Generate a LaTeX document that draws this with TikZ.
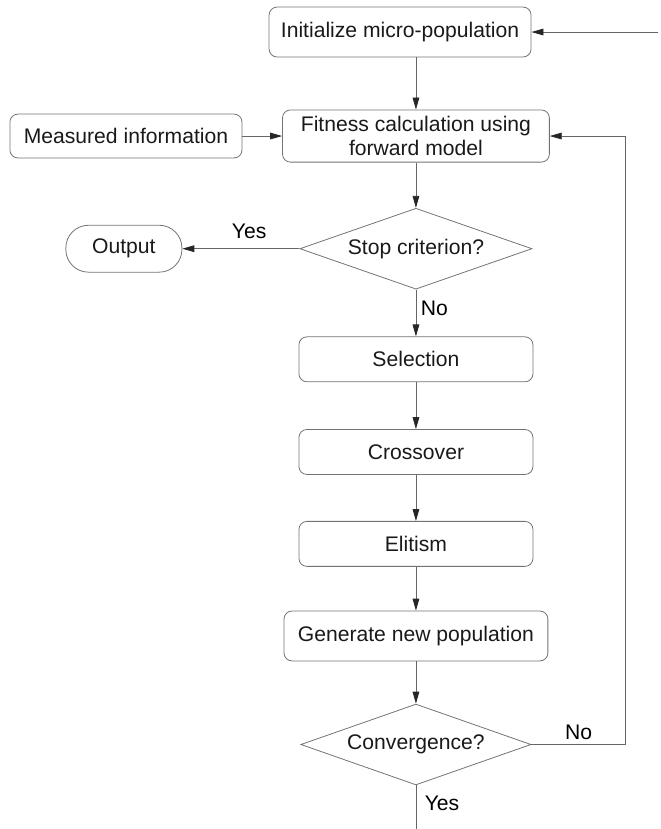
\documentclass[tikz,border=0pt]{standalone}
\usepackage{fontspec}
\setmainfont{Liberation Sans}
\usetikzlibrary{positioning, arrows.meta, shapes.geometric}

\begin{document}
\begin{tikzpicture}[
        font=\fontsize{15.9}{18}\selectfont,
        >={Triangle[length=9pt, width=5pt, color=black!85]},
        node distance=1.27cm,
        box/.style={
            draw=black!55,
            line width=0.6pt,
            rounded corners=6pt,
            align=center,
            minimum width=6.19cm,
            minimum height=1.19cm,
            inner sep=4pt,
            text=black!90
        },
        decision/.style={
            diamond,
            draw=black!55,
            line width=0.6pt,
            aspect=2.9,
            inner sep=0pt,
            minimum width=6.14cm,
            minimum height=2.14cm,
            text=black!90
        },
        terminal/.style={
            draw=black!55,
            line width=0.6pt,
            rounded corners=17pt,
            minimum width=3.07cm,
            minimum height=1.24cm,
            text=black!90
        },
        arrow/.style={->, draw=black!60, line width=0.6pt},
        line/.style={draw=black!60, line width=0.6pt}
    ]

    \useasboundingbox (0,0) rectangle (17.46,-21.93);

    \node[box, minimum width=6.93cm, minimum height=1.32cm] (init) at (10.583,-0.847) {Initialize micro-population};

    \node[box, below=1.38cm of init, xshift=0.42cm, minimum width=7.06cm, minimum height=1.38cm] (fitness) {
        Fitness calculation using\\
        forward model
    };

    \node[box, left=1.05cm of fitness, minimum width=6.14cm, minimum height=1.16cm] (measured) {Measured information};

    \node[decision, below=1.2cm of fitness] (stop) {Stop criterion?};

    \node[terminal, left=3.1cm of stop] (output) {Output};

    \node[box, below=1.24cm of stop] (selection) {Selection};

    \node[box, below=1.24cm of selection] (crossover) {Crossover};

    \node[box, below=1.22cm of crossover] (elitism) {Elitism};

    \node[box, below=1.16cm of elitism, minimum width=6.98cm, minimum height=1.32cm] (generate) {Generate new population};

    \node[decision, below=1.12cm of generate, minimum width=6.09cm] (convergence) {Convergence?};

    \coordinate[right=2.49cm of convergence] (loop);
    \coordinate[right=3.36cm of init] (start);
    \coordinate[below=1.25cm of convergence] (finish);

    \draw[arrow] (start) -- (init);
    \draw[arrow] (init.south -| fitness) -- (fitness);
    \draw[arrow] (measured) -- (fitness);
    \draw[arrow] (fitness) -- (stop);
    \draw[arrow] (stop) -- node[above=4pt, pos=0.43] {Yes} (output);
    \draw[arrow] (stop) -- node[right, pos=0.4] {No} (selection);
    \draw[arrow] (selection) -- (crossover);
    \draw[arrow] (crossover) -- (elitism);
    \draw[arrow] (elitism) -- (generate);
    \draw[arrow] (generate) -- (convergence);
    \draw[arrow] (convergence.east) -- node[above] {No} (loop) |- (fitness.east);
    \draw[line] (convergence) -- node[right=3pt, pos=0.38] {Yes} (finish);

    \end{tikzpicture}
\end{document}
